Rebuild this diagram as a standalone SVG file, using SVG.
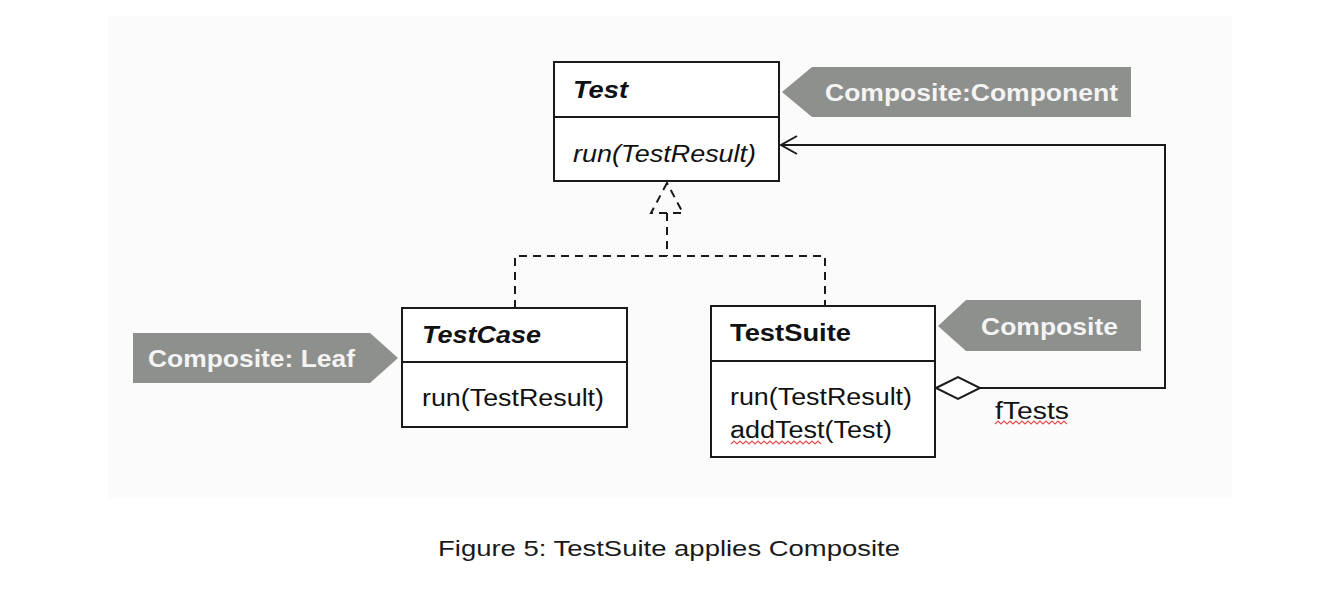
<svg xmlns="http://www.w3.org/2000/svg" width="1324" height="590" viewBox="0 0 1324 590">
<style>
.box{fill:#fff;stroke:#1a1a1a;stroke-width:2}
.div{stroke:#1a1a1a;stroke-width:2}
.t{font-family:"Liberation Sans",Arial,sans-serif;font-size:23px;fill:#111}
.bi{font-weight:bold;font-style:italic}
.b{font-weight:bold}
.i{font-style:italic}
.tag{fill:#8e908d}
.tt{font-family:"Liberation Sans",Arial,sans-serif;font-size:23px;font-weight:bold;fill:#f4f4f4}
.ln{fill:none;stroke:#1a1a1a;stroke-width:2}
.dash{fill:none;stroke:#1a1a1a;stroke-width:2;stroke-dasharray:8 6}
.sq{fill:none;stroke:#e05050;stroke-width:1.2}
</style>
<rect x="0" y="0" width="1324" height="590" fill="#ffffff"/>
<rect x="108" y="16" width="1124" height="482" fill="#fbfbfb"/>

<g id="connectors">
  <polygon class="dash" points="667,183 651,213 683,213"/>
  <polyline class="dash" points="667,213 667,256"/>
  <polyline class="dash" points="515,308 515,256 825,256 825,306"/>
  <polyline class="ln" points="980,388 1165,388 1165,145 781,145"/>
  <polyline class="ln" points="797,136 781,145 797,154"/>
  <polygon fill="#fff" stroke="#1a1a1a" stroke-width="2" points="936,388 958,377 980,388 958,399"/>
  <text class="t" x="995" y="419" textLength="74" lengthAdjust="spacingAndGlyphs">fTests</text>
  <path class="sq" d="M995,424 l3,-3 l3,3 l3,-3 l3,3 l3,-3 l3,3 l3,-3 l3,3 l3,-3 l3,3 l3,-3 l3,3 l3,-3 l3,3 l3,-3 l3,3 l3,-3 l3,3 l3,-3 l3,3 l3,-3 l3,3 l3,-3 l3,3"/>
</g>

<g id="test">
  <rect class="box" x="554" y="62" width="225" height="119"/>
  <line class="div" x1="554" y1="117" x2="779" y2="117"/>
  <text class="t bi" x="573" y="98" textLength="55" lengthAdjust="spacingAndGlyphs">Test</text>
  <text class="t i" x="573" y="162" textLength="183" lengthAdjust="spacingAndGlyphs">run(TestResult)</text>
</g>

<g id="tag-component">
  <polygon class="tag" points="782,92 812,67 1131,67 1131,117 812,117"/>
  <text class="tt" x="825" y="101" textLength="293" lengthAdjust="spacingAndGlyphs">Composite:Component</text>
</g>

<g id="testcase">
  <rect class="box" x="402" y="308" width="225" height="119"/>
  <line class="div" x1="402" y1="362" x2="627" y2="362"/>
  <text class="t bi" x="422" y="343" textLength="119" lengthAdjust="spacingAndGlyphs">TestCase</text>
  <text class="t" x="422" y="406" textLength="182" lengthAdjust="spacingAndGlyphs">run(TestResult)</text>
</g>

<g id="tag-leaf">
  <polygon class="tag" points="133,333 370,333 398,358 370,383 133,383"/>
  <text class="tt" x="148" y="367" textLength="207" lengthAdjust="spacingAndGlyphs">Composite: Leaf</text>
</g>

<g id="testsuite">
  <rect class="box" x="711" y="306" width="224" height="151"/>
  <line class="div" x1="711" y1="361" x2="935" y2="361"/>
  <text class="t b" x="730" y="341" textLength="121" lengthAdjust="spacingAndGlyphs">TestSuite</text>
  <text class="t" x="730" y="405" textLength="182" lengthAdjust="spacingAndGlyphs">run(TestResult)</text>
  <text class="t" x="730" y="438" textLength="162" lengthAdjust="spacingAndGlyphs">addTest(Test)</text>
  <path class="sq" d="M731,444 l3,-3 l3,3 l3,-3 l3,3 l3,-3 l3,3 l3,-3 l3,3 l3,-3 l3,3 l3,-3 l3,3 l3,-3 l3,3 l3,-3 l3,3 l3,-3 l3,3 l3,-3 l3,3 l3,-3 l3,3 l3,-3 l3,3 l3,-3 l3,3 l3,-3 l3,3 l3,-3 l3,3"/>
</g>

<g id="tag-composite">
  <polygon class="tag" points="938,326 966,300 1141,300 1141,351 966,351"/>
  <text class="tt" x="981" y="335" textLength="137" lengthAdjust="spacingAndGlyphs">Composite</text>
</g>

<text x="669" y="556" text-anchor="middle" font-family="'Liberation Sans',Arial,sans-serif" font-size="22" fill="#1a1a1a" textLength="462" lengthAdjust="spacingAndGlyphs">Figure 5: TestSuite applies Composite</text>
</svg>
